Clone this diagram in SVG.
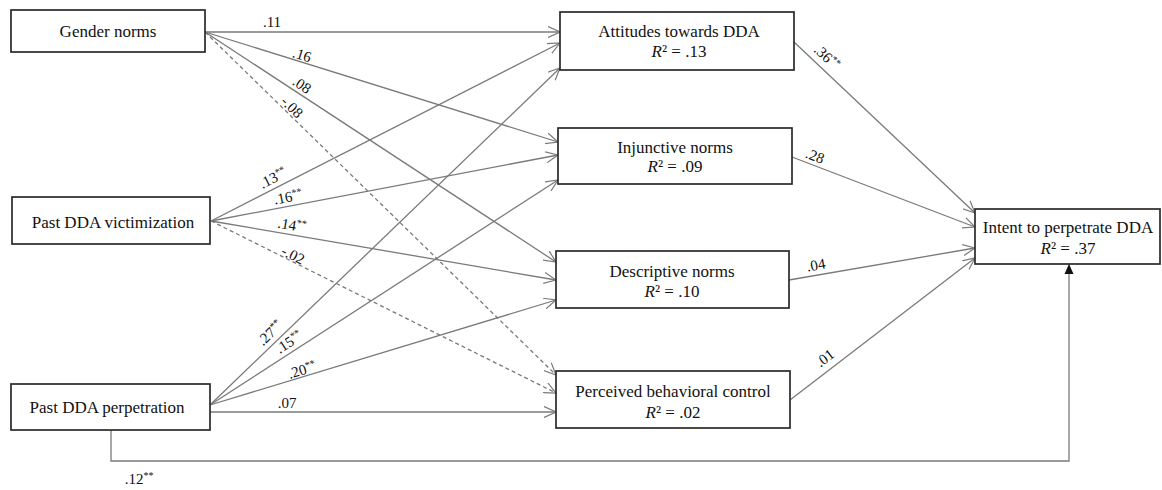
<svg xmlns="http://www.w3.org/2000/svg" width="1162" height="490" viewBox="0 0 1162 490">
<defs>
<style>
.box{fill:#fff;stroke:#2a2a2a;stroke-width:1.7}
.t{font-family:"Liberation Serif","Times New Roman",serif;font-size:17px;fill:#111;text-anchor:middle}
.lb{font-family:"Liberation Serif","Times New Roman",serif;font-size:15px;fill:#111;text-anchor:middle}
.sup{font-size:10px}
.c{fill:none;stroke:#7a7a7a;stroke-width:1.3}
.d{stroke-dasharray:4 3}
</style>
<marker id="a" viewBox="0 0 12 12" refX="12" refY="6" markerWidth="12" markerHeight="12" markerUnits="userSpaceOnUse" orient="auto">
<path d="M0,0.5 L12,6 L0,11.5" fill="none" stroke="#7a7a7a" stroke-width="1.2"/>
</marker>
<marker id="f" viewBox="0 0 10 10" refX="10" refY="5" markerWidth="10" markerHeight="10" markerUnits="userSpaceOnUse" orient="auto">
<path d="M0,0.5 L10,5 L0,9.5 Z" fill="#111"/>
</marker>
</defs>
<rect width="1162" height="490" fill="#fff"/>
<g id="connectors">
<line class="c" x1="205" y1="32" x2="560" y2="32" marker-end="url(#a)"/>
<line class="c" x1="205" y1="32" x2="558" y2="142" marker-end="url(#a)"/>
<line class="c" x1="205" y1="32" x2="556" y2="262" marker-end="url(#a)"/>
<line class="c d" x1="205" y1="32" x2="556" y2="375" marker-end="url(#a)"/>
<line class="c" x1="211" y1="221" x2="560" y2="43" marker-end="url(#a)"/>
<line class="c" x1="211" y1="221" x2="558" y2="155" marker-end="url(#a)"/>
<line class="c" x1="211" y1="221" x2="556" y2="280" marker-end="url(#a)"/>
<line class="c d" x1="211" y1="221" x2="556" y2="393" marker-end="url(#a)"/>
<line class="c" x1="210" y1="405" x2="560" y2="68" marker-end="url(#a)"/>
<line class="c" x1="210" y1="405" x2="558" y2="180" marker-end="url(#a)"/>
<line class="c" x1="210" y1="405" x2="556" y2="300" marker-end="url(#a)"/>
<line class="c" x1="210" y1="412" x2="556" y2="412" marker-end="url(#a)"/>
<line class="c" x1="794" y1="42" x2="975" y2="213" marker-end="url(#a)"/>
<line class="c" x1="792" y1="157" x2="975" y2="227" marker-end="url(#a)"/>
<line class="c" x1="789" y1="280" x2="975" y2="248" marker-end="url(#a)"/>
<line class="c" x1="790" y1="400" x2="975" y2="258" marker-end="url(#a)"/>
<path class="c" d="M111,430 V461 H1069 V264" marker-end="url(#f)"/>
</g>
<g id="labels">
<text class="lb" x="272" y="27">.11</text>
<text class="lb" x="302" y="60" transform="rotate(17.3 302 55)">.16</text>
<text class="lb" x="302" y="90" transform="rotate(33.2 302 85)">.08</text>
<text class="lb" x="292" y="112" transform="rotate(44.3 292 107)">-.08</text>
<text class="lb" x="273" y="183" transform="rotate(-27 273 178)">.13<tspan class="sup" dy="-5">**</tspan></text>
<text class="lb" x="288" y="202" transform="rotate(-10.8 288 197)">.16<tspan class="sup" dy="-5">**</tspan></text>
<text class="lb" x="292" y="230" transform="rotate(9.7 292 225)">.14<tspan class="sup" dy="-5">**</tspan></text>
<text class="lb" x="293" y="260" transform="rotate(26.5 293 255)">-.02</text>
<text class="lb" x="270" y="338" transform="rotate(-43.9 270 333)">.27<tspan class="sup" dy="-5">**</tspan></text>
<text class="lb" x="289" y="347" transform="rotate(-32.9 289 342)">.15<tspan class="sup" dy="-5">**</tspan></text>
<text class="lb" x="302" y="375" transform="rotate(-16.9 302 370)">.20<tspan class="sup" dy="-5">**</tspan></text>
<text class="lb" x="287" y="408">.07</text>
<text class="lb" x="139" y="484">.12<tspan class="sup" dy="-5">**</tspan></text>
<text class="lb" x="827" y="62" transform="rotate(43.4 827 57)">.36<tspan class="sup" dy="-5">**</tspan></text>
<text class="lb" x="815" y="161" transform="rotate(20.9 815 156)">.28</text>
<text class="lb" x="816" y="270" transform="rotate(-9.8 816 265)">.04</text>
<text class="lb" x="825" y="363" transform="rotate(-37.5 825 358)">.01</text>
</g>
<g id="gender-norms">
<rect class="box" x="11" y="10" width="194" height="42"/>
<text class="t" x="108" y="37">Gender norms</text>
</g>
<g id="past-dda-victimization">
<rect class="box" x="12" y="197" width="198" height="47"/>
<text class="t" x="113" y="228">Past DDA victimization</text>
</g>
<g id="past-dda-perpetration">
<rect class="box" x="11" y="384" width="199" height="46"/>
<text class="t" x="107" y="413">Past DDA perpetration</text>
</g>
<g id="attitudes">
<rect class="box" x="560" y="12" width="234" height="58"/>
<text class="t" x="679" y="37">Attitudes towards DDA</text>
<text class="t" x="679" y="57"><tspan font-style="italic">R</tspan>² = .13</text>
</g>
<g id="injunctive-norms">
<rect class="box" x="558" y="128" width="234" height="56"/>
<text class="t" x="675" y="153">Injunctive norms</text>
<text class="t" x="675" y="172"><tspan font-style="italic">R</tspan>² = .09</text>
</g>
<g id="descriptive-norms">
<rect class="box" x="556" y="251" width="233" height="57"/>
<text class="t" x="672" y="277">Descriptive norms</text>
<text class="t" x="672" y="297"><tspan font-style="italic">R</tspan>² = .10</text>
</g>
<g id="perceived-behavioral-control">
<rect class="box" x="556" y="371" width="234" height="57"/>
<text class="t" x="673" y="397">Perceived behavioral control</text>
<text class="t" x="673" y="418"><tspan font-style="italic">R</tspan>² = .02</text>
</g>
<g id="intent">
<rect class="box" x="975" y="209" width="185" height="55"/>
<text class="t" x="1068" y="233">Intent to perpetrate DDA</text>
<text class="t" x="1068" y="254"><tspan font-style="italic">R</tspan>² = .37</text>
</g>
</svg>
